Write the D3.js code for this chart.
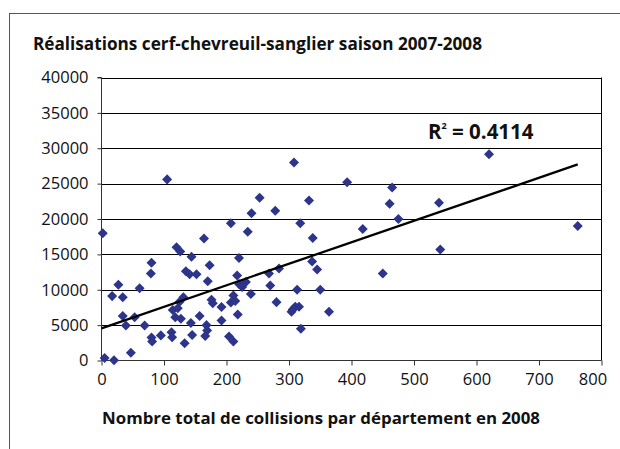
<!DOCTYPE html>
<html><head><meta charset="utf-8">
<script src="https://cdn.jsdelivr.net/npm/d3@7"></script>
<style>body{margin:0;background:#fff}svg{display:block}</style>
</head><body>
<script>
const title = "Réalisations cerf-chevreuil-sanglier saison 2007-2008";
const xTitle = "Nombre total de collisions par département en 2008";
const xTicks = [0,100,200,300,400,500,600,700,800];
const yTicks = [0,5000,10000,15000,20000,25000,30000,35000,40000];
const collisions = [2,5,20,47,17,27,34,34,39,53,61,69,80,79,80,81,95,105,112,113,114,122,125,118,127,120,126,131,135,141,152,144,143,145,133,157,164,170,173,176,178,168,169,166,192,192,207,204,211,211,207,214,218,220,217,231,220,225,239,234,240,253,268,270,278,284,280,308,306,310,316,304,313,318,319,332,338,337,345,350,364,393,418,450,461,465,475,540,542,620,762];
const realisations = [18000,350,50,1100,9100,10700,8950,6300,4950,6100,10200,4950,13800,12300,3250,2700,3550,25600,4000,3300,7150,7400,8300,6100,5900,16000,15400,8950,12600,12200,12200,14650,5300,3600,2450,6300,17250,11200,13450,8600,8100,5000,4250,3450,7550,5650,19400,3400,2700,9200,8200,8400,6500,14500,12000,11100,10800,10400,9400,18200,20800,23000,12300,10600,21150,13000,8250,28000,7200,7600,7600,6900,10000,19400,4500,22600,17300,14000,12850,10000,6900,25200,18600,12300,22150,24450,20000,22300,15700,29150,19000];
const trendIntercept = 4550;
const trendSlope = 30.4;
const r2Label = "0.4114";

const W = 620, H = 449;
const svg = d3.select("body").append("svg").attr("width", W).attr("height", H);
svg.append("rect").attr("x",9.5).attr("y",13.5).attr("width",W+10).attr("height",H+10)
  .attr("fill","none").attr("stroke","#555").attr("stroke-width",1);

const x = d3.scaleLinear().domain([0,800]).range([101.5,601.5]);
const y = d3.scaleLinear().domain([0,40000]).range([360.5,77.5]);
const font = "'Open Sans', sans-serif";

svg.append("text").attr("x",33).attr("y",50).text(title)
  .attr("font-family",font).attr("font-weight","bold").attr("font-size",17).attr("fill","#111")
  .attr("textLength",449).attr("lengthAdjust","spacingAndGlyphs");

// gridlines
svg.append("g").selectAll("line").data(yTicks.filter(d=>d>0)).join("line")
  .attr("x1",x(0)).attr("x2",x(800)).attr("y1",d=>Math.round(y(d))+0.5).attr("y2",d=>Math.round(y(d))+0.5)
  .attr("stroke","#000").attr("stroke-width",1);
// right border
svg.append("line").attr("x1",x(800)).attr("x2",x(800)).attr("y1",y(40000)).attr("y2",y(0)).attr("stroke","#000");

const yAxis = d3.axisLeft(y).tickValues(yTicks).tickSize(4).tickPadding(9).tickFormat(d3.format("d"));
const gy = svg.append("g").attr("transform",`translate(${x(0)},0)`).call(yAxis);
gy.selectAll("text").attr("font-family",font).attr("font-size",16.5).attr("fill","#111");
gy.selectAll("line,path").attr("stroke","#333");

const xAxis = d3.axisBottom(x).tickValues(xTicks).tickSize(5).tickPadding(8).tickFormat(d3.format("d"));
const gx = svg.append("g").attr("transform",`translate(0,${y(0)})`).call(xAxis);
gx.selectAll("text").attr("font-family",font).attr("font-size",16.5).attr("fill","#111");
gx.selectAll(".tick").filter(d=>d===800).select("text").attr("x",-9);
gx.selectAll("line,path").attr("stroke","#333");
gy.select(".domain").attr("d",`M-4,${y(40000)}H0V${y(0)}`);
gx.select(".domain").attr("d",`M${x(0)},0H${x(800)}`);

const pts = collisions.map((c,i)=>({c, r: realisations[i]}));
svg.append("g").selectAll("path").data(pts).join("path")
  .attr("d", d3.symbol(d3.symbolDiamond2, 64)())
  .attr("transform", d=>`translate(${x(d.c)},${y(d.r)})`)
  .attr("fill","#2C358A");

const xMax = d3.max(collisions);
svg.append("line").attr("x1",x(0)).attr("y1",y(trendIntercept))
  .attr("x2",x(xMax)).attr("y2",y(trendIntercept+trendSlope*xMax))
  .attr("stroke","#000").attr("stroke-width",2.3);

const rt = svg.append("text").attr("x",428).attr("y",139)
  .attr("font-family",font).attr("font-weight","bold").attr("font-size",20.5).attr("fill","#111");
rt.append("tspan").text("R");
rt.append("tspan").text("2").attr("font-size",9).attr("dy",-10);
rt.append("tspan").text(" = " + r2Label).attr("dy",10);

svg.append("text").attr("x",321).attr("y",424).attr("text-anchor","middle").text(xTitle)
  .attr("font-family",font).attr("font-weight","bold").attr("font-size",16.5).attr("fill","#111")
  .attr("textLength",438).attr("lengthAdjust","spacingAndGlyphs");
</script>
</body></html>
